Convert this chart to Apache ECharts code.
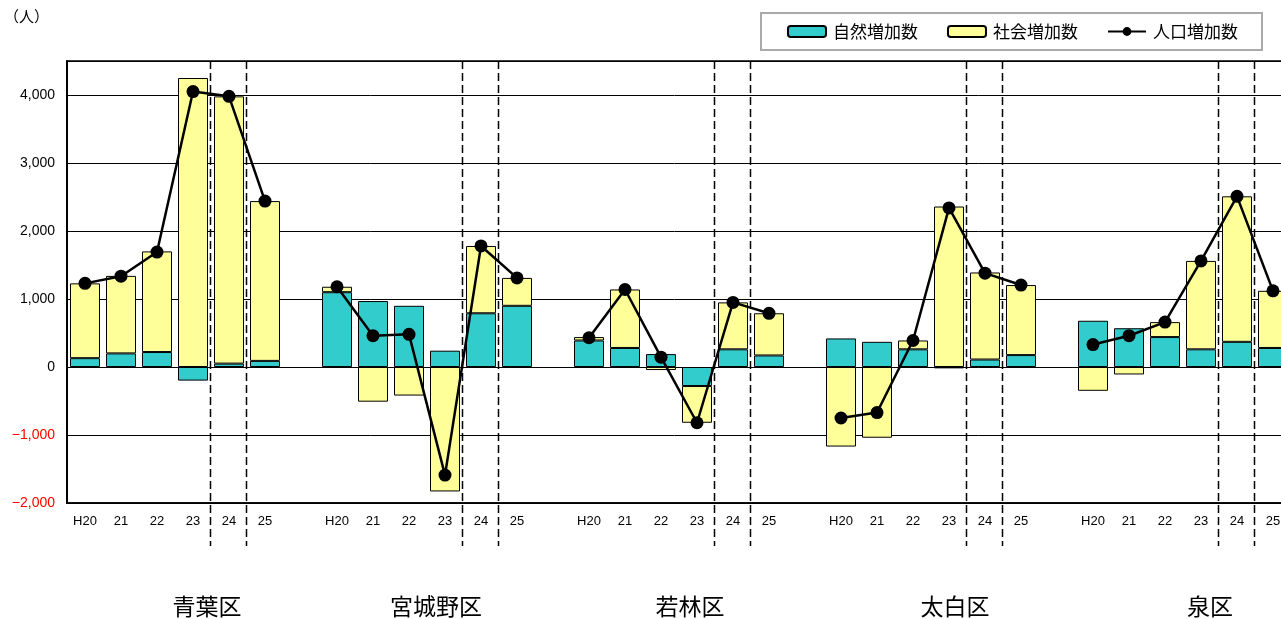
<!DOCTYPE html>
<html>
<head>
<meta charset="utf-8">
<script src="https://cdn.jsdelivr.net/npm/echarts@6/dist/echarts.min.js"></script>
<style>
  html, body { margin: 0; padding: 0; background: #fff; }
  #main { width: 1281px; height: 619px; }
</style>
</head>
<body>
<div id="main"></div>
<script>
// 区名と年度
var wards = ['青葉区', '宮城野区', '若林区', '太白区', '泉区'];
var years = ['H20', '21', '22', '23', '24', '25'];
var wardLabelX = [207, 436, 690, 955, 1210];

// 自然増加数
var natural = [
  130, 200, 220, -200, 50, 90,
  1100, 970, 900, 240, 790, 900,
  390, 280, 190, -280, 260, 170,
  420, 370, 260, -20, 110, 175,
  680, 570, 440, 260, 370, 280
];
// 社会増加数
var social = [
  1100, 1140, 1480, 4250, 3930, 2350,
  80, -510, -420, -1830, 990, 410,
  50, 860, -45, -540, 690, 620,
  -1170, -1040, 130, 2360, 1280, 1030,
  -350, -110, 220, 1300, 2140, 840
];
// 人口増加数
var total = [
  1230, 1335, 1690, 4050, 3980, 2440,
  1180, 460, 480, -1590, 1780, 1310,
  430, 1140, 145, -820, 950, 790,
  -750, -670, 390, 2340, 1380, 1205,
  330, 460, 660, 1560, 2510, 1120
];

// 区ごとに6年度 + 空き1枠
var cats = [], natData = [], socData = [], totData = [];
for (var w = 0; w < wards.length; w++) {
  for (var y = 0; y < years.length; y++) {
    var i = w * years.length + y;
    cats.push(years[y]);
    natData.push(natural[i]);
    socData.push(social[i]);
    totData.push(total[i]);
  }
  cats.push('');
  natData.push('-');
  socData.push('-');
  totData.push('-');
}

var font = '"Liberation Sans", Arial, "Noto Sans CJK JP", sans-serif';
var cjk = '"Noto Sans CJK JP", sans-serif';

var myChart = echarts.init(document.getElementById('main'));
var option = {
  animation: false,
  backgroundColor: '#fff',
  grid: {
    left: 67, top: 61, width: 1260, height: 442,
    outerBoundsMode: 'none', containLabel: false,
    show: true, borderColor: '#000', borderWidth: 1.5, backgroundColor: 'transparent'
  },
  legend: {
    left: 761, top: 13,
    padding: [10, 24, 10, 26],
    borderColor: '#aaa', borderWidth: 2,
    itemWidth: 38, itemHeight: 11, itemGap: 29,
    textStyle: { fontFamily: cjk, fontSize: 17, color: '#000', padding: [0, 0, 0, 2] },
    data: ['自然増加数', '社会増加数', '人口増加数']
  },
  xAxis: {
    type: 'category',
    data: cats,
    axisLine: { onZero: false, lineStyle: { color: '#000', width: 1.5 } },
    axisTick: { show: false },
    axisLabel: { interval: 0, margin: 12, fontFamily: font, fontSize: 13, color: '#000' }
  },
  yAxis: {
    type: 'value',
    min: -2000, max: 4500, interval: 1000,
    axisLine: { show: true, lineStyle: { color: '#000', width: 2 } },
    axisTick: { show: false },
    splitLine: { lineStyle: { color: '#000', width: 1 } },
    axisLabel: {
      margin: 12, fontFamily: font, fontSize: 14, color: '#000', showMaxLabel: false,
      formatter: function (v) {
        var s = Math.abs(v).toLocaleString('en-US');
        return v < 0 ? '{neg|−' + s + '}' : s;
      },
      rich: { neg: { color: '#ff0000', fontFamily: font, fontSize: 14 } }
    }
  },
  series: [
    {
      name: '自然増加数', type: 'bar', stack: 'z', barWidth: 30,
      itemStyle: { color: '#33cccc', borderColor: '#000', borderWidth: 1 },
      data: natData
    },
    {
      name: '社会増加数', type: 'bar', stack: 'z', barWidth: 30,
      itemStyle: { color: '#ffff99', borderColor: '#000', borderWidth: 1 },
      data: socData
    },
    {
      name: '人口増加数', type: 'line', z: 5,
      symbol: 'circle', symbolSize: 13,
      lineStyle: { color: '#000', width: 2.5 },
      itemStyle: { color: '#000' },
      connectNulls: false,
      data: totData
    }
  ]
};
myChart.setOption(option);

// 23/24, 24/25 の区切り破線と区名
var graphics = [];
var slot = myChart.convertToPixel({ xAxisIndex: 0 }, 1) - myChart.convertToPixel({ xAxisIndex: 0 }, 0);
for (var w = 0; w < wards.length; w++) {
  [3, 4].forEach(function (k) {
    var x = Math.round(myChart.convertToPixel({ xAxisIndex: 0 }, w * 7 + k) + slot / 2) - 0.5;
    graphics.push({
      type: 'line', silent: true, z: 10,
      shape: { x1: x, y1: 61, x2: x, y2: 546 },
      style: { stroke: '#000', lineWidth: 1.5, lineDash: [8, 4] }
    });
  });
  graphics.push({
    type: 'text', x: wardLabelX[w], y: 606, z: 10,
    style: { text: wards[w], font: '23px ' + cjk, fill: '#000', align: 'center', verticalAlign: 'middle' }
  });
}
graphics.push({
  type: 'text', left: 4, top: 9,
  style: { text: '（人）', font: '15px ' + cjk, fill: '#000' }
});
myChart.setOption({ graphic: graphics });
</script>
</body>
</html>
